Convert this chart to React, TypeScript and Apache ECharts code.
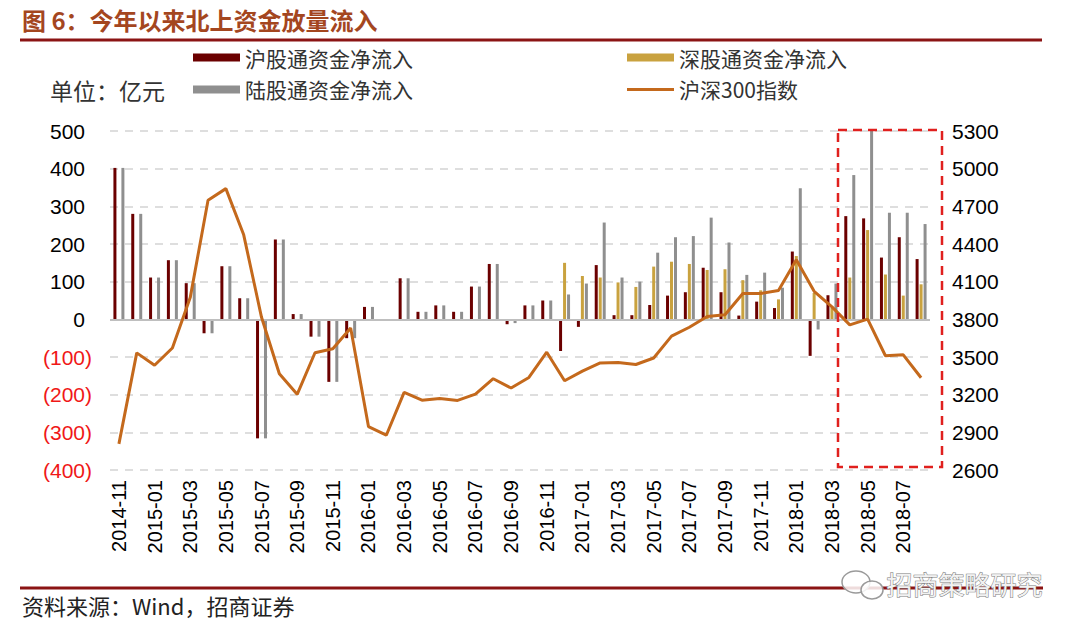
import React, { useEffect, useRef } from "react";
import * as echarts from "echarts";

const categories = [
  "2014-11", "2014-12",
  "2015-01", "2015-02", "2015-03", "2015-04", "2015-05", "2015-06",
  "2015-07", "2015-08", "2015-09", "2015-10", "2015-11", "2015-12",
  "2016-01", "2016-02", "2016-03", "2016-04", "2016-05", "2016-06",
  "2016-07", "2016-08", "2016-09", "2016-10", "2016-11", "2016-12",
  "2017-01", "2017-02", "2017-03", "2017-04", "2017-05", "2017-06",
  "2017-07", "2017-08", "2017-09", "2017-10", "2017-11", "2017-12",
  "2018-01", "2018-02", "2018-03", "2018-04", "2018-05", "2018-06",
  "2018-07", "2018-08",
];

// 沪股通资金净流入 (亿元)
const huFlow = [
  402, 280, 111, 157, 96, -37, 141, 56, -316, 212, 14, -46, -166, -50,
  33, 0, 109, 20, 37, 20, 87, 147, -13, 37, 50, -84,
  -20, 144, 11, 11, 38, 63, 72, 137, 72, 10, 47, 30,
  180, -97, 64, 274, 268, 164, 218, 160,
];

// 深股通资金净流入 (亿元)
const shenFlow = [
  null, null, null, null, null, null, null, null, null, null, null, null, null, null,
  null, null, null, null, null, null, null, null, null, null, null, 150,
  115, 111, 98, 86, 140, 153, 147, 131, 133, 104, 77, 53,
  168, 70, 31, 111, 237, 119, 63, 93,
];

// 陆股通资金净流入 (亿元)
const luFlow = [
  402, 280, 111, 157, 96, -37, 141, 56, -316, 212, 14, -46, -166, -50,
  33, 0, 109, 20, 37, 20, 87, 147, -10, 37, 50, 66,
  95, 257, 111, 100, 177, 218, 221, 270, 204, 118, 124, 84,
  348, -27, 95, 383, 500, 283, 283, 253,
];

// 沪深300指数
const hs300 = [
  2808, 3533, 3434, 3572, 3973, 4749, 4841, 4473, 3816, 3366, 3203, 3534, 3566, 3731,
  2946, 2877, 3218, 3156, 3169, 3154, 3204, 3327, 3253, 3337, 3538, 3311,
  3387, 3453, 3456, 3440, 3492, 3666, 3737, 3822, 3837, 4006, 4006, 4030,
  4275, 4023, 3899, 3756, 3802, 3510, 3517, 3335,
];

const leftTicks = { min: -400, max: 500, interval: 100 };
const rightTicks = { min: 2600, max: 5300, interval: 300 };

const NUM_FONT = "'Liberation Sans', Arial, sans-serif";
const CJK_FONT = "'Noto Sans CJK SC', 'Noto Sans', sans-serif";

// thin horizontal line icon inside a 47x8 box (tiny corner dots fix the bounding box)
const LINE_ICON =
  "path://M0,0L0.01,0L0.01,0.01Z M0,2.6H47V5.4H0Z M46.99,7.99L47,7.99L47,8Z";

export default function App() {
  const ref = useRef<HTMLDivElement>(null);

  useEffect(() => {
    if (!ref.current) return;
    const chart = echarts.init(ref.current, undefined, { renderer: "svg" });

    const option = {
      animation: false,
      backgroundColor: "#ffffff",
      grid: { left: 110, right: 150, top: 131, bottom: 163, containLabel: false },
      legend: [
        {
          orient: "vertical",
          left: 188,
          top: 42,
          itemWidth: 47,
          itemHeight: 8,
          itemGap: 11,
          textStyle: { fontSize: 21, fontFamily: CJK_FONT, color: "#333" },
          data: [
            { name: "沪股通资金净流入", icon: "rect" },
            { name: "陆股通资金净流入", icon: "rect" },
          ],
        },
        {
          orient: "vertical",
          left: 622,
          top: 42,
          itemWidth: 47,
          itemHeight: 8,
          itemGap: 11,
          textStyle: { fontSize: 21, fontFamily: CJK_FONT, color: "#333" },
          data: [
            { name: "深股通资金净流入", icon: "rect" },
            { name: "沪深300指数", icon: LINE_ICON, symbolKeepAspect: false, itemStyle: { color: "#C4691C" } },
          ],
        },
      ],
      xAxis: {
        type: "category",
        data: categories,
        boundaryGap: true,
        axisLine: { show: false },
        axisTick: { show: false },
        splitLine: { show: false },
        axisLabel: {
          interval: 1,
          rotate: 90,
          margin: 10,
          fontSize: 20,
          fontFamily: NUM_FONT,
          color: "#000",
        },
      },
      yAxis: [
        {
          type: "value",
          ...leftTicks,
          axisLine: { show: false },
          axisTick: { show: false },
          splitLine: {
            show: true,
            lineStyle: { color: "#D4D4D4", width: 1.5, type: [8, 7] },
          },
          axisLabel: {
            margin: 18,
            formatter: (v: number) => (v < 0 ? `{neg|(${-v})}` : `{pos|${v}}`),
            rich: {
              neg: { fontSize: 21, fontFamily: NUM_FONT, color: "#F01818" },
              pos: { fontSize: 21, fontFamily: NUM_FONT, color: "#000", padding: [0, 7, 0, 0] },
            },
          },
        },
        {
          type: "value",
          ...rightTicks,
          axisLine: { show: false },
          axisTick: { show: false },
          splitLine: { show: false },
          axisLabel: {
            margin: 22,
            fontSize: 21,
            fontFamily: NUM_FONT,
            color: "#000",
            formatter: (v: number) => String(v),
          },
        },
      ],
      series: [
        {
          name: "沪股通资金净流入",
          type: "bar",
          data: huFlow,
          barWidth: 3,
          barGap: "33%",
          itemStyle: { color: "#6B0000" },
          markLine: {
            silent: true,
            symbol: ["none", "none"],
            label: { show: false },
            lineStyle: { color: "#BFBFBF", type: "solid", width: 2 },
            data: [{ yAxis: 0 }],
          },
        },
        {
          name: "深股通资金净流入",
          type: "bar",
          data: shenFlow,
          barWidth: 3,
          barGap: "33%",
          itemStyle: { color: "#C9A23F" },
        },
        {
          name: "陆股通资金净流入",
          type: "bar",
          data: luFlow,
          barWidth: 3,
          barGap: "33%",
          itemStyle: { color: "#8F8F8F" },
        },
        {
          name: "沪深300指数",
          type: "line",
          yAxisIndex: 1,
          data: hs300,
          symbol: "none",
          z: 10,
          lineStyle: { color: "#C4691C", width: 3 },
          itemStyle: { color: "#C4691C" },
        },
      ],
      graphic: [
        {
          type: "text",
          left: 22,
          top: 7,
          style: {
            text: "图 6：今年以来北上资金放量流入",
            font: `bold 24px ${CJK_FONT}`,
            fill: "#A4461F",
          },
        },
        {
          type: "line",
          shape: { x1: 20, y1: 40, x2: 1042, y2: 40 },
          style: { stroke: "#8B1414", lineWidth: 3 },
        },
        {
          type: "text",
          left: 50,
          top: 78,
          style: { text: "单位：亿元", font: `23px ${CJK_FONT}`, fill: "#333" },
        },
        {
          type: "rect",
          shape: { x: 838, y: 130, width: 104, height: 337 },
          style: { fill: "none", stroke: "#E0201E", lineWidth: 2.5, lineDash: [9, 6] },
          z: 20,
        },
        {
          type: "line",
          shape: { x1: 20, y1: 588, x2: 1043, y2: 588 },
          style: { stroke: "#8B1414", lineWidth: 3 },
        },
        {
          type: "text",
          left: 22,
          top: 594,
          style: { text: "资料来源：Wind，招商证券", font: `22px ${CJK_FONT}`, fill: "#222" },
        },
        {
          type: "ellipse",
          shape: { cx: 856, cy: 582, rx: 14, ry: 11 },
          style: { fill: "rgba(255,255,255,0.85)", stroke: "#9A9A9A", lineWidth: 1.5 },
          z: 30,
        },
        {
          type: "ellipse",
          shape: { cx: 872, cy: 590, rx: 11, ry: 9 },
          style: { fill: "rgba(255,255,255,0.85)", stroke: "#9A9A9A", lineWidth: 1.5 },
          z: 31,
        },
        {
          type: "text",
          left: 886,
          top: 570,
          z: 32,
          style: {
            text: "招商策略研究",
            font: `26px ${CJK_FONT}`,
            fill: "#F2F2F2",
            stroke: "#7A7A7A",
            lineWidth: 1,
          },
        },
      ],
    };

    chart.setOption(option as any);
    return () => chart.dispose();
  }, []);

  return (
    <div
      ref={ref}
      style={{ position: "fixed", left: 0, top: 0, width: 1080, height: 633, background: "#fff" }}
    />
  );
}
